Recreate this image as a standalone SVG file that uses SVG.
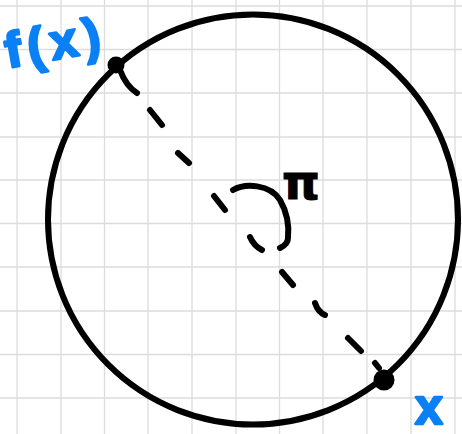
<svg xmlns="http://www.w3.org/2000/svg" width="462" height="434" viewBox="0 0 462 434">
<defs>
<style>
.grid line{stroke:#dcdcdc;stroke-width:1.3}
.ink{fill:none;stroke:#000;stroke-width:6;stroke-linecap:round;stroke-linejoin:round}
.dot{fill:#000}
.blue{fill:#0a80f5;stroke:#0a80f5;stroke-width:2.5;stroke-linejoin:round;font-family:"Liberation Sans",Arial,sans-serif;font-weight:bold}
.pi{fill:#000;stroke:#000;stroke-width:1;font-family:"DejaVu Sans","Liberation Sans",sans-serif;font-weight:bold}
</style>
</defs>
<rect width="462" height="434" fill="#fff"/>
<g class="grid">
<line x1="17" y1="0" x2="17" y2="434"/><line x1="61" y1="0" x2="61" y2="434"/><line x1="104.5" y1="0" x2="104.5" y2="434"/><line x1="148" y1="0" x2="148" y2="434"/><line x1="192" y1="0" x2="192" y2="434"/><line x1="236" y1="0" x2="236" y2="434"/><line x1="279.5" y1="0" x2="279.5" y2="434"/><line x1="323" y1="0" x2="323" y2="434"/><line x1="367" y1="0" x2="367" y2="434"/><line x1="411" y1="0" x2="411" y2="434"/><line x1="455" y1="0" x2="455" y2="434"/>
<line x1="0" y1="6" x2="462" y2="6"/><line x1="0" y1="49.5" x2="462" y2="49.5"/><line x1="0" y1="93" x2="462" y2="93"/><line x1="0" y1="137" x2="462" y2="137"/><line x1="0" y1="180" x2="462" y2="180"/><line x1="0" y1="223.5" x2="462" y2="223.5"/><line x1="0" y1="267" x2="462" y2="267"/><line x1="0" y1="311" x2="462" y2="311"/><line x1="0" y1="354.5" x2="462" y2="354.5"/><line x1="0" y1="398" x2="462" y2="398"/>
</g>
<g id="circle"><circle class="ink" cx="253" cy="219.5" r="205" stroke-width="6.5"/></g>
<g id="connectors">
<path class="ink" d="M120,70 Q126,86 137,93 M150,110 L162,125 M178,153 L189,163 M214,196 L225,210 M250,237 Q254,246 262,250 M282,272 L293,285 M315,303 Q318,312 325,315 M348,338 L361,351 M375,363 L379,368"/>
</g>
<g id="angle">
<path class="ink" d="M233,190 C245,183 270,184 280,200 C288,214 289,228 288,238 C288,243 284,246 280,248"/>
<text class="pi" x="282" y="199" font-size="48">π</text>
</g>
<g id="point-fx">
<circle class="dot" cx="116" cy="65" r="8.5"/>
<text class="blue" transform="translate(8,68) rotate(-10)" font-size="50" textLength="96" lengthAdjust="spacing">f(x)</text>
</g>
<g id="point-x">
<circle class="dot" cx="384" cy="380" r="10.5"/>
<text class="blue" x="415" y="424" font-size="50">x</text>
</g>
</svg>
